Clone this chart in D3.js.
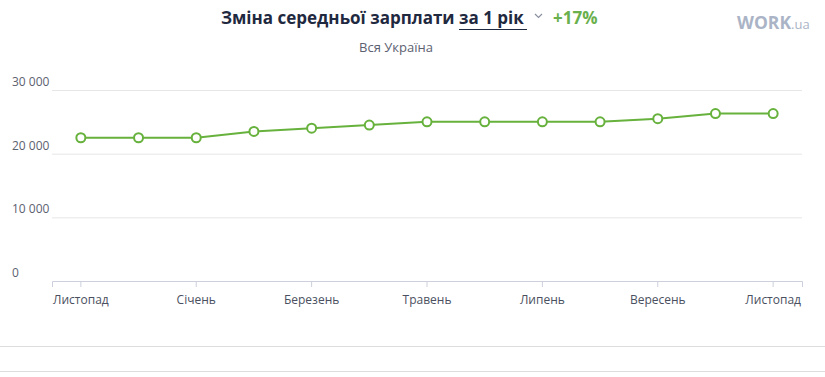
<!DOCTYPE html>
<html>
<head>
<meta charset="utf-8">
<script src="https://cdn.jsdelivr.net/npm/d3@7"></script>
<style>
  body { margin: 0; background: #fff; }
  svg { display: block; font-family: "Open Sans", "Noto Sans", sans-serif; }
</style>
</head>
<body>
<svg width="825" height="377"></svg>
<script>
// monthly points, Nov -> Nov
var months = ["Листопад", "Грудень", "Січень", "Лютий", "Березень", "Квітень", "Травень",
              "Червень", "Липень", "Серпень", "Вересень", "Жовтень", "Листопад "];
var salary = [22500, 22500, 22500, 23500, 24000, 24500, 25000, 25000, 25000, 25000, 25500, 26300, 26300];
var yTicks = [0, 10000, 20000, 30000];
var labeledMonths = ["Листопад", "Січень", "Березень", "Травень", "Липень", "Вересень", "Листопад "];

var svg = d3.select("svg");
var green = "#67b13d";

xScale = d3.scaleBand()
  .domain(months)
  .range([52, 802]);

yScale = d3.scaleLinear()
  .domain([0, 30000])
  .range([281, 90]);

function fmt(v) { return d3.format(",")(v).replace(/,/g, " "); }

// grid lines
svg.append("g")
  .selectAll("line")
  .data(yTicks.filter(function (d) { return d > 0; }))
  .join("line")
  .attr("x1", 52).attr("x2", 802)
  .attr("y1", function (d) { return yScale(d) + 0.5; })
  .attr("y2", function (d) { return yScale(d) + 0.5; })
  .attr("stroke", "#e6e6e6");

// y labels sit above the grid lines, on the left
svg.append("g")
  .selectAll("text")
  .data(yTicks)
  .join("text")
  .attr("x", 12)
  .attr("y", function (d) { return yScale(d) - 4; })
  .attr("font-size", 12)
  .attr("fill", "#5c6170")
  .text(function (d) { return fmt(d); });

// x axis
xAxis = d3.axisBottom(xScale)
  .tickValues(labeledMonths)
  .tickSize(6)
  .tickPadding(8)
  .tickFormat(function (d) { return d.trim(); });

var xg = svg.append("g")
  .attr("transform", "translate(0,281)")
  .call(xAxis);
xg.select(".domain").attr("stroke", "#ccd0dc");
xg.selectAll(".tick line").attr("stroke", "#ccd0dc");
xg.selectAll(".tick text")
  .attr("font-size", 12)
  .attr("font-family", "Open Sans, Noto Sans, sans-serif")
  .attr("fill", "#4a5060");

var cx = function (d, i) { return xScale(months[i]) + xScale.bandwidth() / 2; };

var line = d3.line()
  .x(cx)
  .y(function (d) { return yScale(d); });

svg.append("path")
  .attr("d", line(salary))
  .attr("fill", "none")
  .attr("stroke", green)
  .attr("stroke-width", 2);

svg.append("g")
  .selectAll("circle")
  .data(salary)
  .join("circle")
  .attr("cx", cx)
  .attr("cy", function (d) { return yScale(d); })
  .attr("r", 4.5)
  .attr("fill", "#fff")
  .attr("stroke", green)
  .attr("stroke-width", 2);

// title
var title = svg.append("text")
  .attr("x", 221)
  .attr("y", 24)
  .attr("font-size", 17)
  .attr("font-weight", 700)
  .attr("fill", "#1f2940");
title.append("tspan").text("Зміна середньої зарплати ");
title.append("tspan").attr("id", "period").text("за 1 рік");

svg.append("line")
  .attr("x1", 459).attr("x2", 527)
  .attr("y1", 29.5).attr("y2", 29.5)
  .attr("stroke", "#1f2940").attr("stroke-width", 1);

svg.append("path")
  .attr("d", "M535,14 L538.5,17.5 L542,14")
  .attr("fill", "none")
  .attr("stroke", "#8a90a0")
  .attr("stroke-width", 1.2);

svg.append("text")
  .attr("x", 553)
  .attr("y", 24)
  .attr("font-size", 17)
  .attr("font-weight", 700)
  .attr("fill", "#6ab04c")
  .text("+17%");

svg.append("text")
  .attr("x", 396)
  .attr("y", 52)
  .attr("text-anchor", "middle")
  .attr("font-size", 13)
  .attr("fill", "#5c6170")
  .text("Вся Україна");

// logo
var logo = svg.append("text")
  .attr("x", 737)
  .attr("y", 29)
  .attr("fill", "#aab4c6")
  .attr("font-weight", 700);
logo.append("tspan").attr("font-size", 17.5).text("WORK");
logo.append("tspan").attr("font-size", 13).attr("font-weight", 400).text(".ua");

// bottom separators
svg.selectAll(".sep")
  .data([346, 371])
  .join("line")
  .attr("class", "sep")
  .attr("x1", 0).attr("x2", 825)
  .attr("y1", function (d) { return d + 0.5; })
  .attr("y2", function (d) { return d + 0.5; })
  .attr("stroke", "#dddddd");
</script>
</body>
</html>
